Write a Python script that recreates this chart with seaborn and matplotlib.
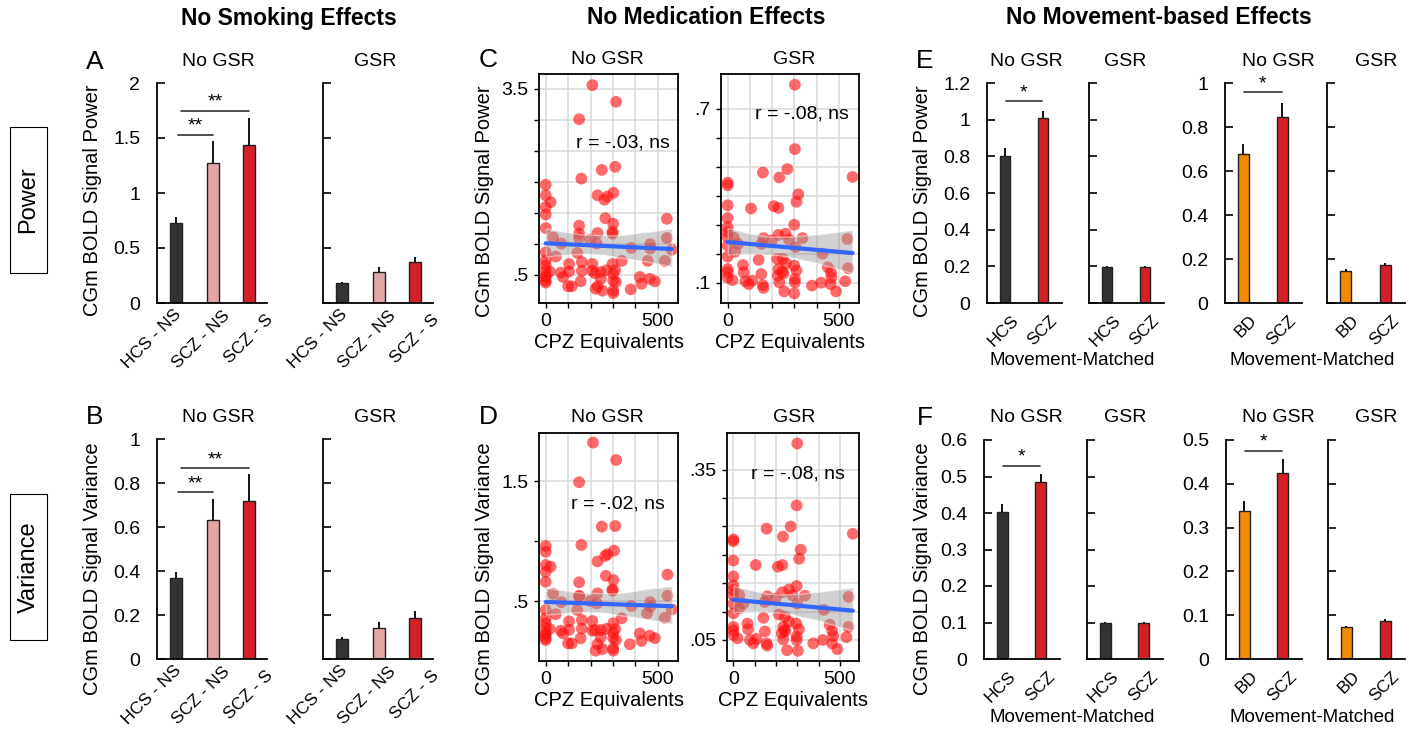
# Figure: CGm BOLD signal power / variance - smoking, medication and movement controls
import matplotlib
matplotlib.use('Agg')
import numpy as np
import pandas as pd
import matplotlib.pyplot as plt
import matplotlib.transforms as mtransforms
import seaborn as sns
from matplotlib.collections import PolyCollection
from matplotlib.patches import Rectangle

# --- Data: bar panels (means and upper SEM) ---
SMOKE_GROUPS = ['HCS - NS', 'SCZ - NS', 'SCZ - S']
HCS_GROUPS = ['HCS', 'SCZ']
BD_GROUPS = ['BD', 'SCZ']

A_NOGSR = [0.73, 1.27, 1.435]
A_NOGSR_ERR = [0.05, 0.20, 0.245]
A_GSR = [0.18, 0.28, 0.37]
A_GSR_ERR = [0.01, 0.05, 0.05]

B_NOGSR = [0.367, 0.633, 0.718]
B_NOGSR_ERR = [0.028, 0.096, 0.122]
B_GSR = [0.09, 0.141, 0.185]
B_GSR_ERR = [0.008, 0.026, 0.033]

E_HCS_NOGSR = [0.80, 1.007]
E_HCS_NOGSR_ERR = [0.045, 0.043]
E_HCS_GSR = [0.195, 0.195]
E_HCS_GSR_ERR = [0.006, 0.006]
E_BD_NOGSR = [0.676, 0.847]
E_BD_NOGSR_ERR = [0.047, 0.063]
E_BD_GSR = [0.145, 0.171]
E_BD_GSR_ERR = [0.008, 0.009]

F_HCS_NOGSR = [0.402, 0.485]
F_HCS_NOGSR_ERR = [0.023, 0.021]
F_HCS_GSR = [0.0985, 0.0985]
F_HCS_GSR_ERR = [0.004, 0.003]
F_BD_NOGSR = [0.337, 0.424]
F_BD_NOGSR_ERR = [0.023, 0.032]
F_BD_GSR = [0.072, 0.0866]
F_BD_GSR_ERR = [0.004, 0.004]

# --- Data: scatter panels (CPZ equivalents vs signal) ---
C_NOGSR_CPZ = [208, 314, 149, 250, 310, 159, 0, 0, 22, 0, 0, 0, 231, 262, 275, 302, 266, 301, 298, 298,
               149, 149, 149, 231, 540, 540, 562, 33, 70, 198, 228, 382, 466, 466, 0, 45, 141, 0, 0, 0,
               0, 0, 18, 67, 77, 104, 104, 100, 116, 161, 161, 156, 208, 208, 220, 246, 246, 231, 223, 253,
               271, 298, 310, 301, 301, 313, 301, 301, 339, 379, 420, 427, 455, 464, 487, 531, 0, 0]
C_NOGSR_POWER = [3.56, 3.29, 3.01, 2.19, 2.24, 2.05, 1.95, 1.78, 1.67, 1.59, 1.47, 1.25, 1.78, 1.71, 1.76, 1.82,
                 1.41, 1.32, 1.19, 1.16, 1.29, 1.16, 1.09, 1.17, 1.40, 1.09, 0.90, 1.10, 1.00, 1.06, 1.00, 0.93,
                 0.99, 0.92, 0.86, 0.79, 0.85, 0.73, 0.65, 0.56, 0.48, 0.40, 0.55, 0.53, 0.46, 0.67, 0.55, 0.31,
                 0.31, 0.70, 0.56, 0.39, 0.67, 0.56, 0.52, 0.54, 0.43, 0.31, 0.27, 0.24, 0.57, 0.67, 0.57, 0.51,
                 0.40, 0.38, 0.24, 0.20, 0.72, 0.26, 0.46, 0.35, 0.72, 0.43, 0.39, 0.72, 0.46, 0.37]

C_GSR_CPZ = [302, 302, 268, 158, 232, 561, 0, 0, 317, 309, 0, 105, 207, 228, 0, 0, 0, 299, 0, 28,
             0, 47, 33, 0, 161, 151, 198, 228, 260, 275, 305, 336, 538, 541, 426, 139, 223, 247, 262, 228,
             251, 244, 299, 309, 302, 302, 299, 0, 0, 21, 69, 72, 80, 110, 95, 151, 158, 161, 225, 232,
             254, 379, 420, 450, 464, 467, 462, 487, 528, 0]
C_GSR_POWER = [0.783, 0.561, 0.492, 0.48, 0.463, 0.465, 0.445, 0.436, 0.405, 0.379, 0.367, 0.356, 0.364, 0.358,
               0.323, 0.292, 0.275, 0.30, 0.257, 0.255, 0.228, 0.234, 0.207, 0.19, 0.254, 0.234, 0.246, 0.265,
               0.269, 0.249, 0.223, 0.254, 0.251, 0.15, 0.20, 0.179, 0.182, 0.182, 0.167, 0.147, 0.132, 0.138,
               0.159, 0.142, 0.113, 0.101, 0.063, 0.147, 0.136, 0.109, 0.161, 0.136, 0.105, 0.107, 0.095, 0.13,
               0.092, 0.082, 0.124, 0.101, 0.07, 0.09, 0.10, 0.153, 0.136, 0.118, 0.095, 0.07, 0.105, 0.118]

D_NOGSR_CPZ = [211, 314, 149, 250, 310, 159, 0, 0, 22, 0, 0, 0, 231, 265, 275, 305, 268, 302, 298, 298,
               149, 149, 149, 231, 543, 543, 562, 33, 70, 198, 228, 382, 466, 466, 0, 45, 141, 0, 0, 0,
               0, 0, 18, 67, 77, 104, 104, 100, 116, 161, 161, 156, 208, 208, 220, 246, 246, 231, 223, 253,
               271, 301, 310, 301, 301, 313, 301, 301, 339, 375, 420, 427, 452, 464, 487, 531, 0, 0]
D_NOGSR_VAR = [1.82, 1.675, 1.49, 1.12, 1.125, 0.967, 0.958, 0.91, 0.786, 0.80, 0.744, 0.66, 0.83, 0.875, 0.89,
               0.92, 0.71, 0.675, 0.597, 0.586, 0.656, 0.544, 0.536, 0.564, 0.72, 0.544, 0.43, 0.56, 0.49, 0.50,
               0.48, 0.458, 0.49, 0.453, 0.425, 0.39, 0.425, 0.356, 0.314, 0.27, 0.23, 0.19, 0.267, 0.253, 0.23,
               0.33, 0.26, 0.147, 0.147, 0.342, 0.27, 0.19, 0.333, 0.253, 0.258, 0.258, 0.197, 0.14, 0.086, 0.10,
               0.267, 0.314, 0.267, 0.236, 0.19, 0.175, 0.106, 0.086, 0.356, 0.14, 0.23, 0.167, 0.397, 0.211,
               0.19, 0.36, 0.217, 0.175]

D_GSR_CPZ = [300, 297, 269, 156, 233, 561, 0, 0, 316, 309, 0, 105, 209, 230, 0, 0, 0, 297, 0, 27,
             0, 47, 27, 0, 159, 147, 198, 230, 261, 277, 300, 336, 541, 541, 425, 141, 214, 242, 261, 234,
             245, 238, 295, 308, 297, 297, 303, 0, 0, 19, 66, 69, 78, 109, 94, 148, 156, 159, 227, 234,
             252, 375, 420, 452, 464, 469, 464, 488, 531, 0]
D_GSR_VAR = [0.396, 0.287, 0.25, 0.246, 0.232, 0.237, 0.227, 0.224, 0.209, 0.193, 0.19, 0.182, 0.179, 0.182,
             0.162, 0.146, 0.138, 0.145, 0.129, 0.129, 0.114, 0.114, 0.106, 0.097, 0.127, 0.117, 0.123, 0.134,
             0.139, 0.129, 0.114, 0.128, 0.126, 0.073, 0.103, 0.089, 0.095, 0.091, 0.082, 0.073, 0.066, 0.067,
             0.079, 0.069, 0.056, 0.05, 0.031, 0.073, 0.067, 0.053, 0.079, 0.069, 0.05, 0.052, 0.044, 0.065,
             0.044, 0.04, 0.062, 0.051, 0.032, 0.044, 0.05, 0.077, 0.066, 0.057, 0.044, 0.034, 0.055, 0.059]

# --- Colors ---
SMOKE_COLORS = ['#333333', '#E3A6A6', '#D42026']
HCS_COLORS = ['#333333', '#D42026']
BD_COLORS = ['#F28A05', '#D42026']

# slanted labels of the smoking panels sit spread wider than the bars in the original (pixel nudges)
SMOKE_LABEL_NUDGE = [-24.5, -11.5, 0]

# --- Figure setup ---
W, H = 1426, 729
sns.set_theme(style='ticks')
plt.rcParams['font.family'] = ['Liberation Sans', 'DejaVu Sans']
plt.rcParams.update({'text.color': 'black', 'axes.labelcolor': 'black',
                     'xtick.color': 'black', 'ytick.color': 'black'})
fig = plt.figure(figsize=(W / 100, H / 100), dpi=100)


def shift_px(dx, dy=0):
    return mtransforms.ScaledTranslation(dx / 100, dy / 100, fig.dpi_scale_trans)


def px_axes(x0, y0, x1, y1):
    """Axes from pixel box (left, top, right, bottom)."""
    return fig.add_axes([x0 / W, 1 - y1 / H, (x1 - x0) / W, (y1 - y0) / H])


def ftext(x, y, s, **kw):
    fig.text(x / W, 1 - y / H, s, ha='center', va='center', **kw)


def bar_panel(box, groups, means, errs, colors, ylim, yticks, ylabels, xlim, width, nudge=None):
    ax = px_axes(*box)
    df = pd.DataFrame({'group': groups, 'value': means})
    sns.barplot(data=df, x='group', y='value', hue='group', palette=colors, legend=False,
                width=width, edgecolor='#222222', linewidth=1, saturation=1, ax=ax)
    ax.vlines(range(len(means)), means, np.array(means) + np.array(errs), color='black', lw=1.3)
    ax.set_yticks(yticks)
    if ylabels is None:
        ax.set_yticklabels([])
    else:
        ax.set_yticklabels(ylabels, fontsize=14)
    ax.tick_params(axis='y', direction='in', length=6, width=1.2, pad=12)
    ax.set_xticks(range(len(groups)))
    if nudge is None:
        ax.tick_params(axis='x', length=0, pad=7)
        ax.set_xticklabels(groups, rotation=45, ha='right', va='top', rotation_mode='anchor', fontsize=12.5)
        for lab in ax.get_xticklabels():
            lab.set_transform(lab.get_transform() + shift_px(6))
    else:
        ax.tick_params(axis='x', length=0, pad=26)
        ax.set_xticklabels(groups, rotation=45, ha='center', va='center', rotation_mode='anchor', fontsize=12.5)
        for lab, dx in zip(ax.get_xticklabels(), nudge):
            lab.set_transform(lab.get_transform() + shift_px(dx))
    ax.set_ylim(*ylim)
    ax.set_xlim(*xlim)
    ax.set_xlabel('')
    ax.set_ylabel('')
    for side in ['top', 'right']:
        ax.spines[side].set_visible(False)
    for side in ['left', 'bottom']:
        ax.spines[side].set_linewidth(1.3)
        ax.spines[side].set_color('black')
    return ax


def sig_bar(ax, x0, x1, y, label):
    ax.plot([x0, x1], [y, y], color='#333333', lw=1.2, clip_on=False)
    ax.text((x0 + x1) / 2, y, label, ha='center', va='bottom', fontsize=14, clip_on=False)


def scatter_panel(box, x, y, ylim, yticks, ylabels, r_text, text_xy):
    ax = px_axes(*box)
    sns.scatterplot(x=x, y=y, ax=ax, color='#FF1010', alpha=0.62, s=72, edgecolor='none', linewidth=0, zorder=2)
    # gray confidence band, then blue fit line (ggplot geom_smooth look)
    sns.regplot(x=x, y=y, ax=ax, scatter=False, ci=95, n_boot=1000, seed=3, color='0.6',
                line_kws={'alpha': 0})
    for coll in ax.collections:
        if isinstance(coll, PolyCollection):
            coll.set_alpha(0.45)
            coll.set_zorder(3)
    sns.regplot(x=x, y=y, ax=ax, scatter=False, ci=None, color='#3366FF', line_kws={'lw': 3, 'zorder': 4})
    ax.set_xlim(-30, 590)
    ax.set_ylim(*ylim)
    ax.set_xticks([0, 100, 200, 300, 400, 500])
    ax.set_xticklabels(['0', '', '', '', '', '500'], fontsize=14)
    ax.set_yticks(yticks)
    ax.set_yticklabels(ylabels, fontsize=14)
    ax.grid(True, color='#D9D9D9', lw=1.1, zorder=0)
    ax.set_axisbelow(True)
    ax.tick_params(direction='out', length=3.5, width=1, pad=4)
    for side in ax.spines:
        ax.spines[side].set_linewidth(1.3)
        ax.spines[side].set_color('black')
    ax.set_xlabel('CPZ Equivalents', fontsize=14.5, labelpad=2)
    ax.set_ylabel('')
    ax.text(text_xy[0], text_xy[1], r_text, transform=ax.transAxes, ha='right', va='center', fontsize=14)
    return ax


# --- Column headers and row boxes ---
ftext(289, 18, 'No Smoking Effects', fontsize=16.5, weight='bold')
ftext(706, 18, 'No Medication Effects', fontsize=16.5, weight='bold')
ftext(1159, 18, 'No Movement-based Effects', fontsize=16.5, weight='bold')

for (y0, y1, label) in [(127, 273, 'Power'), (494, 640, 'Variance')]:
    fig.add_artist(Rectangle((10 / W, 1 - y1 / H), 37 / W, (y1 - y0) / H, transform=fig.transFigure,
                             fill=False, edgecolor='black', lw=0.8))
    ftext(28.5, (y0 + y1) / 2, label, fontsize=17, rotation=90)

# --- Panel letters ---
for (x, y, letter) in [(95, 62, 'A'), (95, 417, 'B'), (488, 60, 'C'), (488, 417, 'D'), (925, 61, 'E'), (925, 418, 'F')]:
    ftext(x, y, letter, fontsize=19)

# --- Panel A / B: smoking ---
yt_a = [0, 0.5, 1, 1.5, 2]
yt_b = [0, 0.2, 0.4, 0.6, 0.8, 1]
xl3 = (-0.52, 2.49)
ax = bar_panel((157, 83, 267, 303), SMOKE_GROUPS, A_NOGSR, A_NOGSR_ERR, SMOKE_COLORS, (0, 2), yt_a,
               ['0', '0.5', '1', '1.5', '2'], xl3, 0.33, SMOKE_LABEL_NUDGE)
sig_bar(ax, 0.06, 1.0, 1.53, '**')
sig_bar(ax, 0.14, 2.0, 1.75, '**')
bar_panel((323, 83, 433, 303), SMOKE_GROUPS, A_GSR, A_GSR_ERR, SMOKE_COLORS, (0, 2), yt_a, None,
          xl3, 0.33, SMOKE_LABEL_NUDGE)
ax = bar_panel((157, 439, 267, 659), SMOKE_GROUPS, B_NOGSR, B_NOGSR_ERR, SMOKE_COLORS, (0, 1), yt_b,
               ['0', '0.2', '0.4', '0.6', '0.8', '1'], xl3, 0.33, SMOKE_LABEL_NUDGE)
sig_bar(ax, 0.06, 1.0, 0.758, '**')
sig_bar(ax, 0.14, 2.0, 0.867, '**')
bar_panel((323, 439, 433, 659), SMOKE_GROUPS, B_GSR, B_GSR_ERR, SMOKE_COLORS, (0, 1), yt_b, None,
          xl3, 0.33, SMOKE_LABEL_NUDGE)

for (x, y, t) in [(218, 61, 'No GSR'), (375, 61, 'GSR'), (218, 418, 'No GSR'), (375, 418, 'GSR')]:
    ftext(x, y, t, fontsize=14)
ftext(92, 200, 'CGm BOLD Signal Power', fontsize=14.5, rotation=90)
ftext(92, 569, 'CGm BOLD Signal Variance', fontsize=14.5, rotation=90)

# --- Panel C / D: medication ---
scatter_panel((539, 74, 678, 303), C_NOGSR_CPZ, C_NOGSR_POWER, (0.04, 3.74),
              [0.5, 1, 1.5, 2, 2.5, 3, 3.5], ['.5', '', '', '', '', '', '3.5'], 'r = -.03, ns', (0.94, 0.70))
scatter_panel((721, 74, 859, 303), C_GSR_CPZ, C_GSR_POWER, (0.03, 0.82),
              [0.1, 0.2, 0.3, 0.4, 0.5, 0.6, 0.7], ['.1', '', '', '', '', '', '.7'], 'r = -.08, ns', (0.93, 0.825))
scatter_panel((539, 433, 678, 661), D_NOGSR_CPZ, D_NOGSR_VAR, (0.0, 1.9),
              [0.5, 1.0, 1.5], ['.5', '', '1.5'], 'r = -.02, ns', (0.905, 0.69))
scatter_panel((727, 433, 859, 661), D_GSR_CPZ, D_GSR_VAR, (0.013, 0.4145),
              [0.05, 0.1, 0.15, 0.2, 0.25, 0.3, 0.35], ['.05', '', '', '', '', '', '.35'], 'r = -.08, ns',
              (0.895, 0.82))

for (x, y, t) in [(607, 60, 'No GSR'), (794, 60, 'GSR'), (607, 418, 'No GSR'), (794, 418, 'GSR')]:
    ftext(x, y, t, fontsize=14)
ftext(485, 201, 'CGm BOLD Signal Power', fontsize=14.5, rotation=90)
ftext(485, 569, 'CGm BOLD Signal Variance', fontsize=14.5, rotation=90)

# --- Panel E / F: movement-matched ---
xl2 = (-0.47, 1.5)
yt_e1 = [0, 0.2, 0.4, 0.6, 0.8, 1, 1.2]
yt_e2 = [0, 0.2, 0.4, 0.6, 0.8, 1]
yt_f1 = [0, 0.1, 0.2, 0.3, 0.4, 0.5, 0.6]
yt_f2 = [0, 0.1, 0.2, 0.3, 0.4, 0.5]

ax = bar_panel((987, 83, 1062, 303), HCS_GROUPS, E_HCS_NOGSR, E_HCS_NOGSR_ERR, HCS_COLORS, (0, 1.2), yt_e1,
               ['0', '0.2', '0.4', '0.6', '0.8', '1', '1.2'], xl2, 0.28)
sig_bar(ax, 0.02, 0.97, 1.10, '*')
bar_panel((1089, 83, 1164, 303), HCS_GROUPS, E_HCS_GSR, E_HCS_GSR_ERR, HCS_COLORS, (0, 1.2), yt_e1, None, xl2, 0.28)
ax = bar_panel((1225, 83, 1302, 303), BD_GROUPS, E_BD_NOGSR, E_BD_NOGSR_ERR, BD_COLORS, (0, 1), yt_e2,
               ['0', '0.2', '0.4', '0.6', '0.8', '1'], xl2, 0.28)
sig_bar(ax, 0.02, 0.98, 0.958, '*')
bar_panel((1327, 83, 1405, 303), BD_GROUPS, E_BD_GSR, E_BD_GSR_ERR, BD_COLORS, (0, 1), yt_e2, None, xl2, 0.28)

ax = bar_panel((984, 440, 1060, 659), HCS_GROUPS, F_HCS_NOGSR, F_HCS_NOGSR_ERR, HCS_COLORS, (0, 0.6), yt_f1,
               ['0', '0.1', '0.2', '0.3', '0.4', '0.5', '0.6'], xl2, 0.28)
sig_bar(ax, 0.02, 0.97, 0.53, '*')
bar_panel((1087, 440, 1163, 659), HCS_GROUPS, F_HCS_GSR, F_HCS_GSR_ERR, HCS_COLORS, (0, 0.6), yt_f1, None, xl2, 0.28)
ax = bar_panel((1226, 440, 1302, 659), BD_GROUPS, F_BD_NOGSR, F_BD_NOGSR_ERR, BD_COLORS, (0, 0.5), yt_f2,
               ['0', '0.1', '0.2', '0.3', '0.4', '0.5'], xl2, 0.28)
sig_bar(ax, 0.02, 0.98, 0.476, '*')
bar_panel((1328, 440, 1405, 659), BD_GROUPS, F_BD_GSR, F_BD_GSR_ERR, BD_COLORS, (0, 0.5), yt_f2, None, xl2, 0.28)

for y in [61, 418]:
    for (x, t) in [(1026, 'No GSR'), (1125, 'GSR'), (1278, 'No GSR'), (1376, 'GSR')]:
        ftext(x, y, t, fontsize=14)
for y in [361, 717]:
    for x in [1072, 1312]:
        ftext(x, y, 'Movement-Matched', fontsize=13.5)
ftext(923, 201, 'CGm BOLD Signal Power', fontsize=14.5, rotation=90)
ftext(923, 569, 'CGm BOLD Signal Variance', fontsize=14.5, rotation=90)

fig.savefig('out.png', dpi=100)
